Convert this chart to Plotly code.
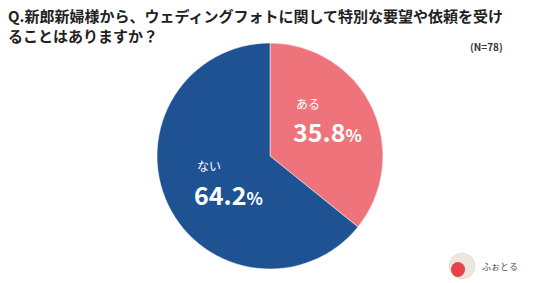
import plotly.graph_objects as go

labels = ["ある", "ない"]
values = [35.8, 64.2]
colors = ["#EF737B", "#1F5292"]
title_lines = ["Q.新郎新婦様から、ウェディングフォトに関して特別な要望や依頼を受け", "ることはありますか？"]
n_label = "(N=78)"

W, H = 536, 283
FONT = "Noto Sans CJK JP"

fig = go.Figure(go.Pie(
    labels=labels, values=values, sort=False, direction="clockwise", rotation=0,
    marker=dict(colors=colors, line=dict(color="#FFFFFF", width=0.5)),
    textinfo="none", hoverinfo="label+value", showlegend=False,
    domain=dict(x=[157/W, 383/W], y=[1-269/H, 1-43/H]),
))

def px(x): return x / W
def py(y): return 1 - y / H

ann = []
ann.append(dict(x=px(6), y=py(3), xref="paper", yref="paper", xanchor="left", yanchor="top",
                text="<b>" + title_lines[0] + "<br>" + title_lines[1] + "</b>", align="left", showarrow=False,
                font=dict(family=FONT, size=15, color="#222222")))
ann.append(dict(x=px(505), y=py(46), xref="paper", yref="paper", xanchor="right", yanchor="middle",
                text="<b>" + n_label + "</b>", showarrow=False, font=dict(family=FONT, size=10, color="#333333")))
# slice labels
for (lx, ly1, ly2, lab, val) in [(294, 104, 131, labels[0], values[0]), (195, 166, 194, labels[1], values[1])]:
    ann.append(dict(x=px(lx), y=py(ly1), xref="paper", yref="paper", xanchor="left", yanchor="middle",
                    text=lab, showarrow=False, font=dict(family=FONT, size=12, color="#FFFFFF")))
    ann.append(dict(x=px(lx - 3), y=py(ly2), xref="paper", yref="paper", xanchor="left", yanchor="middle",
                    text="<b>%.1f<span style='font-size:17px'>%%</span></b>" % val, showarrow=False,
                    font=dict(family=FONT, size=25, color="#FFFFFF")))
# logo text
ann.append(dict(x=px(480), y=py(266), xref="paper", yref="paper", xanchor="left", yanchor="middle",
                text="ふぉとる", showarrow=False, font=dict(family=FONT, size=9, color="#555555")))

shapes = [
    dict(type="circle", xref="paper", yref="paper", x0=px(449), x1=px(475), y0=py(279), y1=py(253),
         fillcolor="#EDE6DC", line=dict(color="#DDD5C8", width=0.5)),
    dict(type="circle", xref="paper", yref="paper", x0=px(451), x1=px(465), y0=py(277), y1=py(262),
         fillcolor="#E8434B", line=dict(width=0)),
]

fig.update_layout(width=W, height=H, margin=dict(l=0, r=0, t=0, b=0),
                  paper_bgcolor="white", plot_bgcolor="white",
                  annotations=ann, shapes=shapes)
fig.write_html("out.html")
